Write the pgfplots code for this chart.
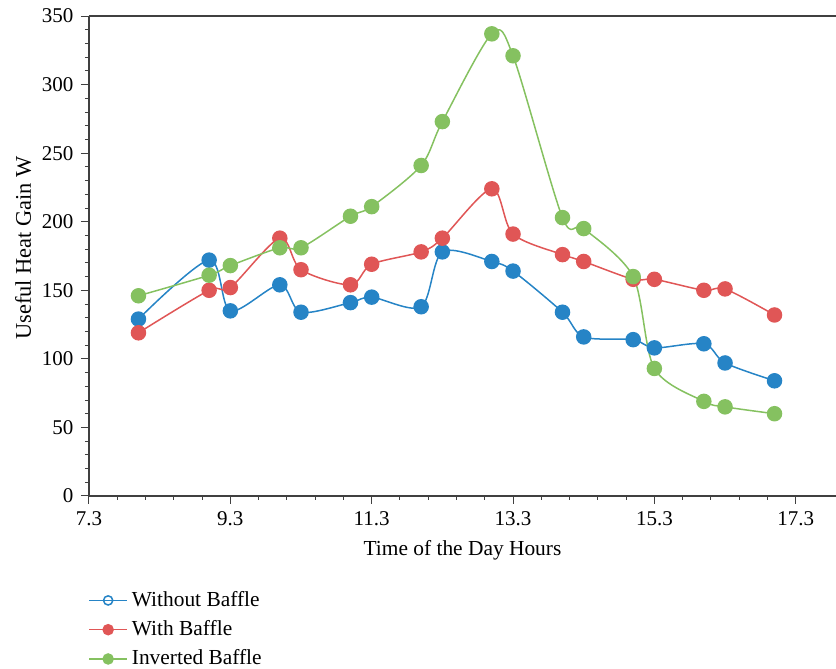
\documentclass[border=0pt]{standalone}
\usepackage{fontspec}
\setmainfont{Liberation Serif}
\usepackage{pgfplots}
\pgfplotsset{compat=1.18}
\definecolor{cblue}{RGB}{38,132,198}
\definecolor{cred}{RGB}{224,86,86}
\definecolor{cgreen}{RGB}{133,193,96}
\pgfplotstableread{
t without with inverted
8.0 129 119 146
9.0 172 150 161
9.3 135 152 168
10.0 154 188 181
10.3 134 165 181
11.0 141 154 204
11.3 145 169 211
12.0 138 178 241
12.3 178 188 273
13.0 171 224 337
13.3 164 191 321
14.0 134 176 203
14.3 116 171 195
15.0 114 158 160
15.3 108 158 93
16.0 111 150 69
16.3 97 151 65
17.0 84 132 60
}\datatable
\begin{document}
\fontsize{10.7}{12.8}\selectfont
\begin{tikzpicture}
\begin{axis}[
  name=ax,
  scale only axis,
  width=373.5pt, height=240pt,
  xmin=7.3, xmax=17.87, ymin=0, ymax=350,
  axis lines=left,
  axis line style={-, black!75, line width=0.6pt},
  xtick={7.3,9.3,11.3,13.3,15.3,17.3},
  xticklabels={7.3,9.3,11.3,13.3,15.3,17.3},
  ytick={0,50,100,150,200,250,300,350},
  minor x tick num=4, minor y tick num=4,
  tick align=outside,
  major tick length=4pt, minor tick length=2pt,
  tick style={black!75, line width=0.5pt},
  /pgf/number format/assume math mode=true,
  tick label style={font=\fontsize{10.5}{12.6}\selectfont},
  label style={font=\fontsize{10.7}{12.8}\selectfont},
  xlabel={Time of the Day Hours},
  ylabel={Useful Heat Gain W},
  ylabel style={yshift=-2pt, xshift=4pt, font=\fontsize{11.2}{13}\selectfont},
  legend style={draw=none, fill=none, at={(0,-0.181)}, anchor=north west, xshift=-3.5pt,
    font=\fontsize{10.7}{12.8}\selectfont, row sep=1.5pt},
  legend cell align=left,
  legend image code/.code={\draw[mark repeat=2,mark phase=2,#1] plot coordinates {(0pt,0pt)(9.5pt,0pt)(19pt,0pt)};},
  every axis plot/.append style={line width=0.75pt},
  clip=false,
]
\draw[black!75, line width=0.6pt] (rel axis cs:0,1) -- (rel axis cs:1,1);
\addplot[cblue, smooth, tension=0.5, mark=*, mark size=3.5pt, mark options={fill=cblue, draw=cblue}, forget plot] table[x=t, y=without] {\datatable};
\addplot[cred, smooth, tension=0.5, mark=*, mark size=3.5pt, mark options={fill=cred, draw=cred}, forget plot] table[x=t, y=with] {\datatable};
\addplot[cgreen, smooth, tension=0.5, mark=*, mark size=3.5pt, mark options={fill=cgreen, draw=cgreen}, forget plot] table[x=t, y=inverted] {\datatable};
\addlegendimage{cblue, line width=0.75pt, mark=o, mark size=2.3pt, mark options={draw=cblue, fill=white}}
\addlegendentry{Without Baffle}
\addlegendimage{cred, line width=0.75pt, mark=*, mark size=2.5pt, mark options={fill=cred, draw=cred}}
\addlegendentry{With Baffle}
\addlegendimage{cgreen, line width=0.75pt, mark=*, mark size=2.5pt, mark options={fill=cgreen, draw=cgreen}}
\addlegendentry{Inverted Baffle}
\end{axis}
\pgfresetboundingbox
\path[use as bounding box] ([shift={(-44.5pt,-86.5pt)}]ax.south west) rectangle ([shift={(0pt,8pt)}]ax.north east);
\end{tikzpicture}
\end{document}
